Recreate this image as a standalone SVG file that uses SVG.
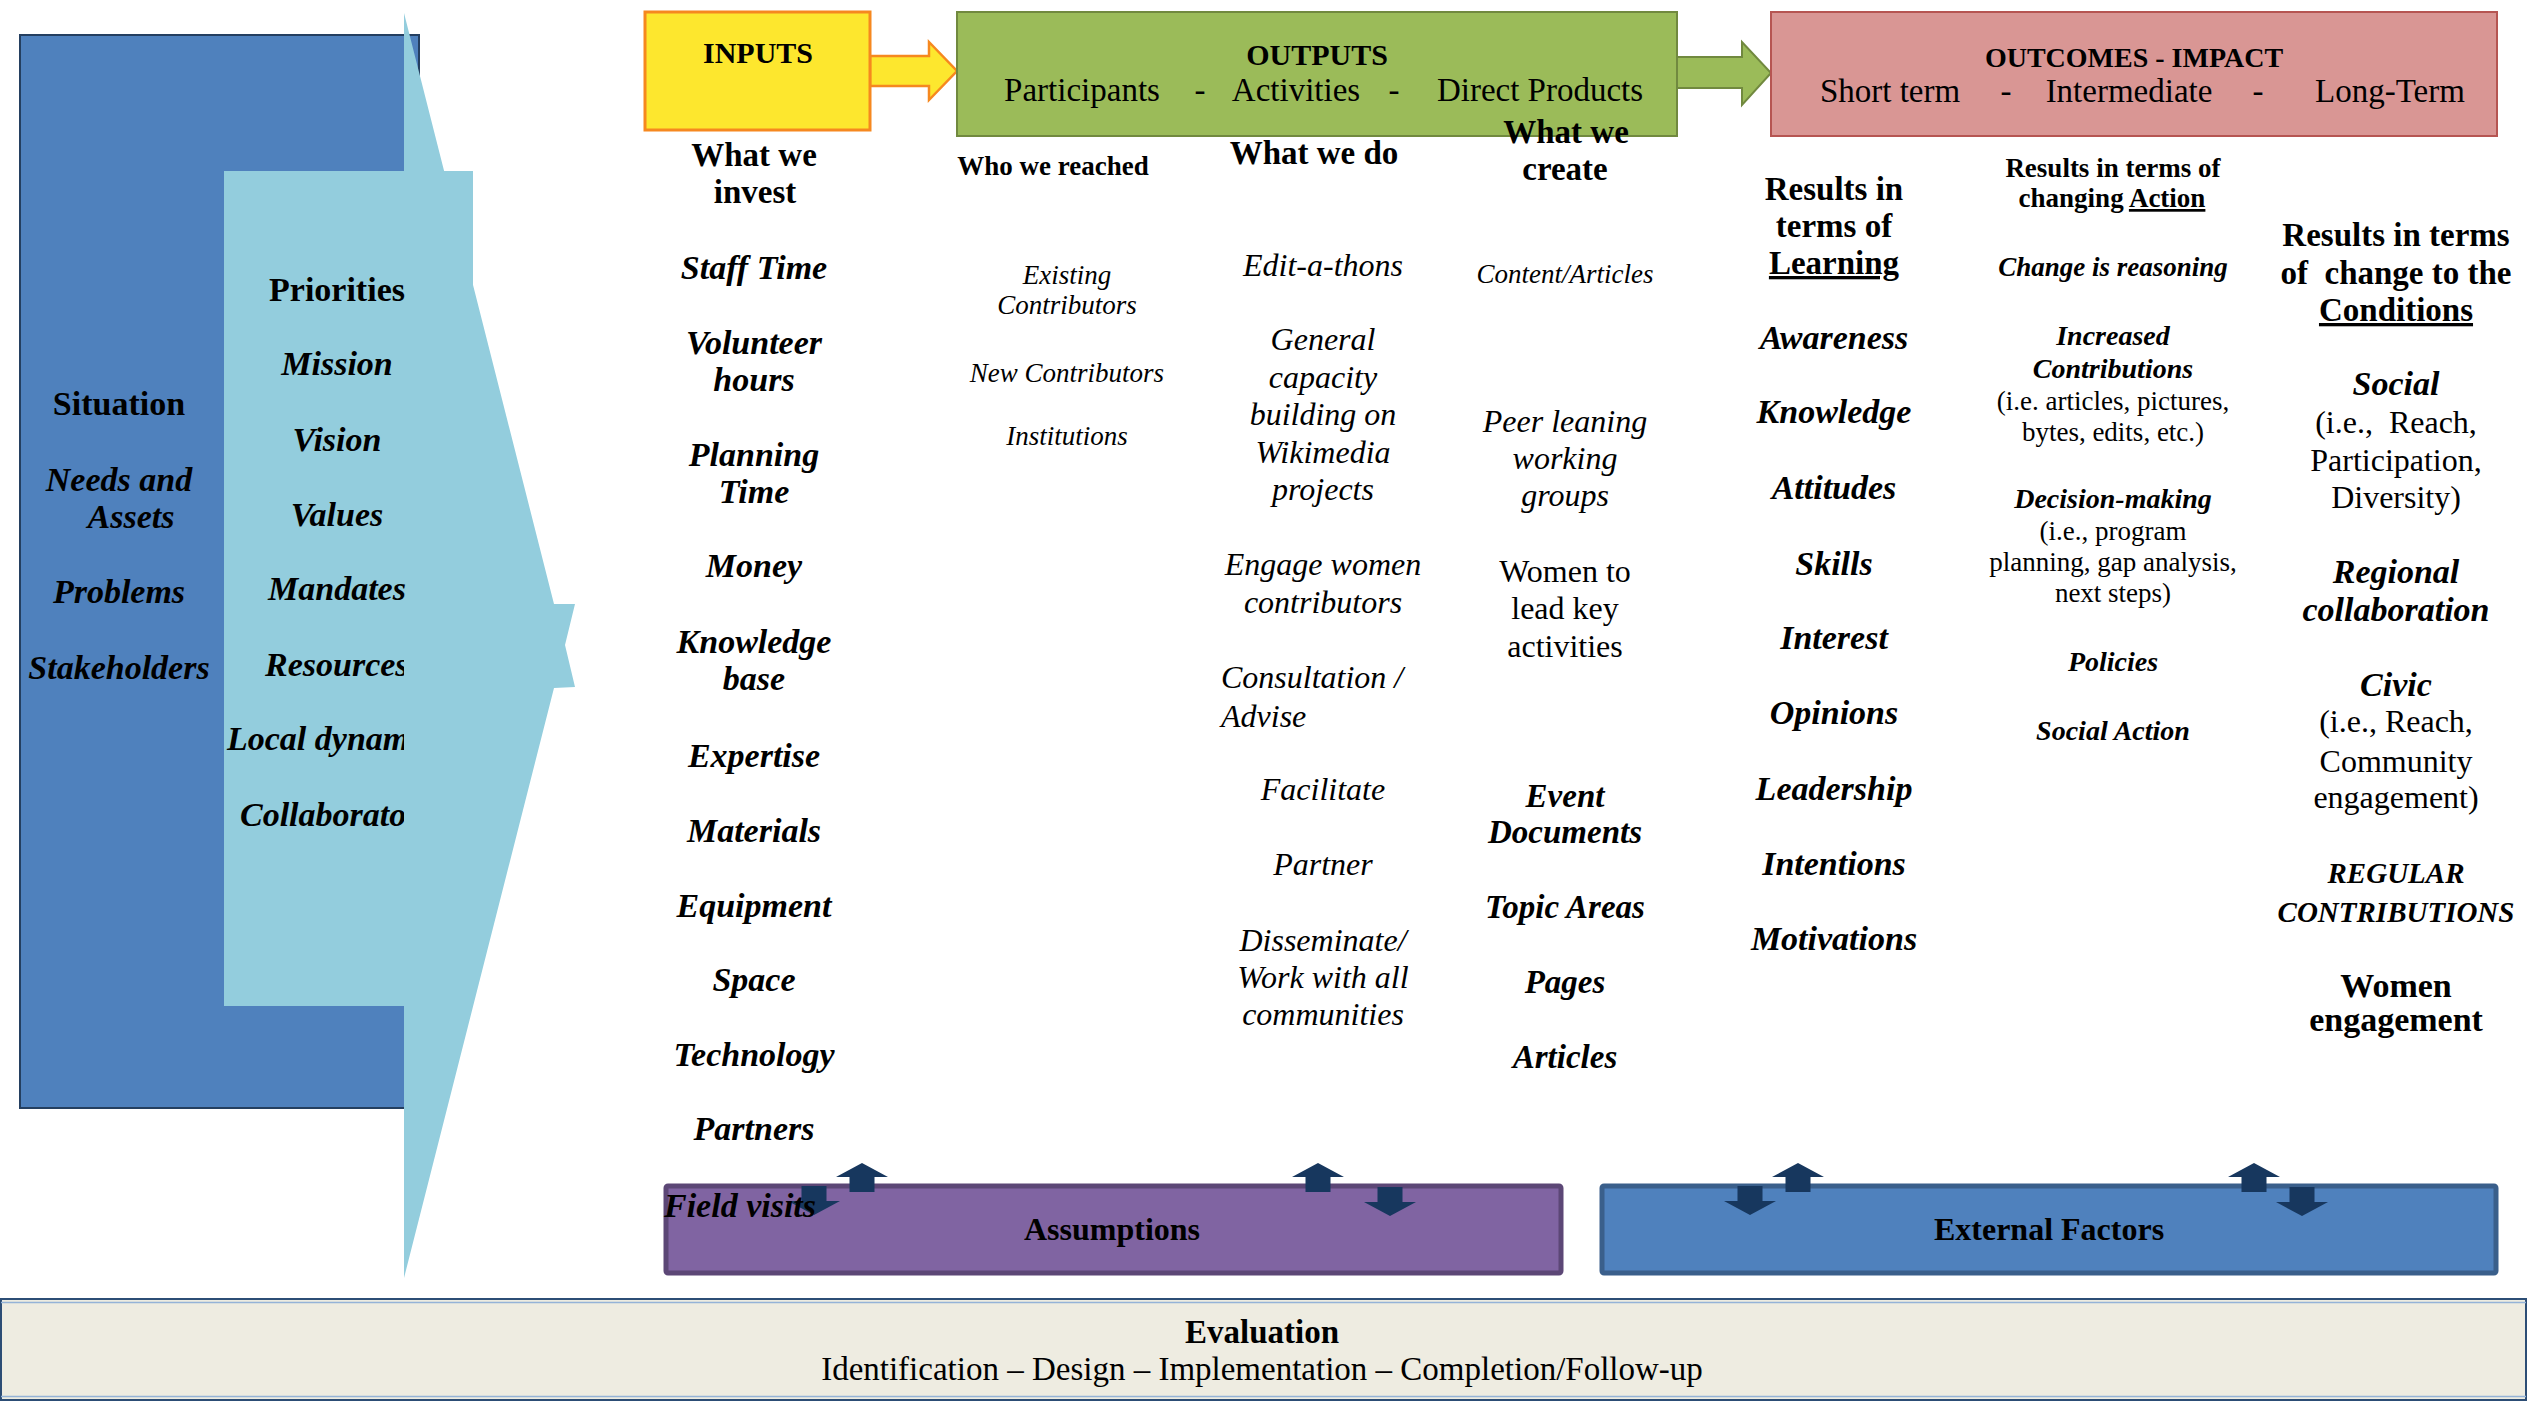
<svg xmlns="http://www.w3.org/2000/svg" xmlns:xlink="http://www.w3.org/1999/xlink" width="2531" height="1405" viewBox="0 0 2531 1405">
<defs>
<style>
text{font-family:"Liberation Serif","Times New Roman",serif;fill:#000;text-anchor:middle}
.b{font-weight:bold}
.i{font-style:italic}
.bi{font-weight:bold;font-style:italic}
.st{text-anchor:start}
.u{text-decoration:underline}
.blk{fill:#17375E}
</style>
<clipPath id="clipL"><rect x="0" y="0" width="404" height="1405"/></clipPath>
<path id="blkArr" d="M0 0 L26 14 L12.5 14 L12.5 29 L-12.5 29 L-12.5 14 L-26 14 Z"/>
</defs>
<rect x="0" y="0" width="2531" height="1405" fill="#FFFFFF"/>

<g id="situation">
<rect x="20" y="35" width="399" height="1073" fill="#4F81BD" stroke="#243F60" stroke-width="2"/>
<text class="b" x="119" y="415" font-size="34">Situation</text>
<text class="bi" x="119" y="491" font-size="34">Needs and</text>
<text class="bi" x="131" y="528" font-size="34">Assets</text>
<text class="bi" x="119" y="603" font-size="34">Problems</text>
<text class="bi" x="119" y="679" font-size="34">Stakeholders</text>
</g>

<g id="priorities">
<polygon points="404,13 554,604 575,604 565,645 575,687 554,688 404,1278" fill="#93CDDD"/>
<rect x="224" y="171" width="249" height="835" fill="#93CDDD"/>
<text class="b" x="337" y="301" font-size="34">Priorities</text>
<text class="bi" x="337" y="375" font-size="34">Mission</text>
<text class="bi" x="337" y="451" font-size="34">Vision</text>
<text class="bi" x="337" y="526" font-size="34">Values</text>
<text class="bi" x="337" y="600" font-size="34">Mandates</text>
<g clip-path="url(#clipL)">
<text class="bi st" x="265" y="676" font-size="34">Resources</text>
<text class="bi st" x="227" y="750" font-size="34">Local dynam</text>
<text class="bi st" x="240" y="826" font-size="34">Collaborato</text>
</g>
</g>

<g id="connectors">
<polygon points="870,56 929,56 929,42 957,71 929,100 929,86 870,86" fill="#FDE72E" stroke="#F6881F" stroke-width="2.5"/>
<polygon points="1677,57 1742,57 1742,42 1771,73 1742,105 1742,88 1677,88" fill="#9BBB59" stroke="#71893F" stroke-width="2"/>
</g>

<g id="inputs">
<rect x="645" y="12" width="225" height="118" fill="#FDE72E" stroke="#F6881F" stroke-width="3"/>
<text class="b" x="758" y="63" font-size="30">INPUTS</text>
</g>

<g id="outputs">
<rect x="957" y="12" width="720" height="124" fill="#9BBB59" stroke="#71893F" stroke-width="2"/>
<text class="b" x="1317" y="65" font-size="30">OUTPUTS</text>
<g font-size="33">
<text x="1082" y="101">Participants</text>
<text x="1200" y="101">-</text>
<text x="1296" y="101">Activities</text>
<text x="1394" y="101">-</text>
<text x="1540" y="101">Direct Products</text>
</g>
</g>

<g id="outcomes">
<rect x="1771" y="12" width="726" height="124" fill="#D99694" stroke="#B65552" stroke-width="2"/>
<text class="b" x="2134" y="67" font-size="28">OUTCOMES - IMPACT</text>
<g font-size="33">
<text x="1890" y="102">Short term</text>
<text x="2006" y="102">-</text>
<text x="2129" y="102">Intermediate</text>
<text x="2258" y="102">-</text>
<text x="2390" y="102">Long-Term</text>
</g>
</g>

<g id="inputs-column">
<text class="b" x="754" y="166" font-size="33">What we</text>
<text class="b" x="755" y="203" font-size="33">invest</text>
<g class="bi" font-size="34">
<text x="754" y="279">Staff Time</text>
<text x="754" y="354">Volunteer</text>
<text x="754" y="391">hours</text>
<text x="754" y="466">Planning</text>
<text x="754" y="503">Time</text>
<text x="754" y="577">Money</text>
<text x="754" y="653">Knowledge</text>
<text x="754" y="690">base</text>
<text x="754" y="767">Expertise</text>
<text x="754" y="842">Materials</text>
<text x="754" y="917">Equipment</text>
<text x="754" y="991">Space</text>
<text x="754" y="1066">Technology</text>
<text x="754" y="1140">Partners</text>
</g>
</g>

<g id="participants-column">
<text class="b" x="1053" y="175" font-size="27">Who we reached</text>
<g class="i" font-size="27">
<text x="1067" y="284">Existing</text>
<text x="1067" y="314">Contributors</text>
<text x="1067" y="382">New Contributors</text>
<text x="1067" y="445">Institutions</text>
</g>
</g>

<g id="activities-column">
<text class="b" x="1314" y="164" font-size="33">What we do</text>
<g class="i" font-size="32">
<text x="1323" y="276">Edit-a-thons</text>
<text x="1323" y="350">General</text>
<text x="1323" y="388">capacity</text>
<text x="1323" y="425">building on</text>
<text x="1323" y="463">Wikimedia</text>
<text x="1323" y="500">projects</text>
<text x="1323" y="575">Engage women</text>
<text x="1323" y="613">contributors</text>
<text class="st" x="1221" y="688">Consultation /</text>
<text class="st" x="1221" y="727">Advise</text>
<text x="1323" y="800">Facilitate</text>
<text x="1323" y="875">Partner</text>
<text x="1323" y="951">Disseminate/</text>
<text x="1323" y="988">Work with all</text>
<text x="1323" y="1025">communities</text>
</g>
</g>

<g id="products-column">
<text class="b" x="1566" y="143" font-size="33">What we</text>
<text class="b" x="1565" y="180" font-size="33">create</text>
<text class="i" x="1565" y="283" font-size="27">Content/Articles</text>
<g class="i" font-size="32">
<text x="1565" y="432">Peer leaning</text>
<text x="1565" y="469">working</text>
<text x="1565" y="506">groups</text>
</g>
<g font-size="32">
<text x="1565" y="582">Women to</text>
<text x="1565" y="619">lead key</text>
<text x="1565" y="657">activities</text>
</g>
<g class="bi" font-size="33">
<text x="1565" y="807">Event</text>
<text x="1565" y="843">Documents</text>
<text x="1565" y="918">Topic Areas</text>
<text x="1565" y="993">Pages</text>
<text x="1565" y="1068">Articles</text>
</g>
</g>

<g id="learning-column">
<g class="b" font-size="33">
<text x="1834" y="200">Results in</text>
<text x="1834" y="237">terms of</text>
<text class="u" x="1834" y="274">Learning</text>
</g>
<g class="bi" font-size="34">
<text x="1834" y="349">Awareness</text>
<text x="1834" y="423">Knowledge</text>
<text x="1834" y="499">Attitudes</text>
<text x="1834" y="575">Skills</text>
<text x="1834" y="649">Interest</text>
<text x="1834" y="724">Opinions</text>
<text x="1834" y="800">Leadership</text>
<text x="1834" y="875">Intentions</text>
<text x="1834" y="950">Motivations</text>
</g>
</g>

<g id="action-column">
<g class="b" font-size="27">
<text x="2113" y="177">Results in terms of</text>
<text x="2112" y="207">changing <tspan class="u">Action</tspan></text>
</g>
<g class="bi" font-size="28">
<text x="2113" y="276" font-size="27">Change is reasoning</text>
<text x="2113" y="345">Increased</text>
<text x="2113" y="378">Contributions</text>
<text x="2113" y="508">Decision-making</text>
<text x="2113" y="671">Policies</text>
<text x="2113" y="740">Social Action</text>
</g>
<g font-size="27">
<text x="2113" y="410">(i.e. articles, pictures,</text>
<text x="2113" y="441">bytes, edits, etc.)</text>
<text x="2113" y="540">(i.e., program</text>
<text x="2113" y="571">planning, gap analysis,</text>
<text x="2113" y="602">next steps)</text>
</g>
</g>

<g id="conditions-column">
<g class="b" font-size="33">
<text x="2396" y="246">Results in terms</text>
<text x="2396" y="284" xml:space="preserve">of  change to the</text>
<text class="u" x="2396" y="321">Conditions</text>
</g>
<g class="bi" font-size="34">
<text x="2396" y="395">Social</text>
<text x="2396" y="583">Regional</text>
<text x="2396" y="621">collaboration</text>
<text x="2396" y="696">Civic</text>
</g>
<g font-size="32">
<text x="2396" y="433" xml:space="preserve">(i.e.,  Reach,</text>
<text x="2396" y="471">Participation,</text>
<text x="2396" y="508">Diversity)</text>
<text x="2396" y="732">(i.e., Reach,</text>
<text x="2396" y="772">Community</text>
<text x="2396" y="808">engagement)</text>
</g>
<g class="bi" font-size="29">
<text x="2396" y="883">REGULAR</text>
<text x="2396" y="922">CONTRIBUTIONS</text>
</g>
<g class="b" font-size="34">
<text x="2396" y="997">Women</text>
<text x="2396" y="1031">engagement</text>
</g>
</g>

<g id="assumptions">
<rect x="666" y="1186" width="895" height="87" rx="2" fill="#8064A2" stroke="#5C4776" stroke-width="5"/>
<text class="b" x="1112" y="1240" font-size="32">Assumptions</text>
</g>

<g id="external-factors">
<rect x="1602" y="1186" width="894" height="87" rx="2" fill="#4F81BD" stroke="#3A5F8B" stroke-width="5"/>
<text class="b" x="2049" y="1240" font-size="32">External Factors</text>
</g>

<g id="influence-arrows" class="blk">
<use xlink:href="#blkArr" transform="translate(862,1163)"/>
<use xlink:href="#blkArr" transform="translate(1318,1163)"/>
<use xlink:href="#blkArr" transform="translate(1798,1163)"/>
<use xlink:href="#blkArr" transform="translate(2254,1163)"/>
<use xlink:href="#blkArr" transform="translate(814,1215) scale(1,-1)"/>
<use xlink:href="#blkArr" transform="translate(1390,1216) scale(1,-1)"/>
<use xlink:href="#blkArr" transform="translate(1750,1215) scale(1,-1)"/>
<use xlink:href="#blkArr" transform="translate(2302,1216) scale(1,-1)"/>
</g>

<text class="bi" x="740" y="1217" font-size="34">Field visits</text>

<g id="evaluation">
<rect x="1" y="1299" width="2525" height="101" fill="#EEECE1" stroke="#2C4D75" stroke-width="2"/>
<line x1="1" y1="1302.5" x2="2526" y2="1302.5" stroke="#95B3D7" stroke-width="1.5"/>
<line x1="1" y1="1396.5" x2="2526" y2="1396.5" stroke="#95B3D7" stroke-width="1.5"/>
<text class="b" x="1262" y="1343" font-size="33">Evaluation</text>
<text x="1262" y="1380" font-size="33">Identification – Design – Implementation – Completion/Follow-up</text>
</g>
</svg>
